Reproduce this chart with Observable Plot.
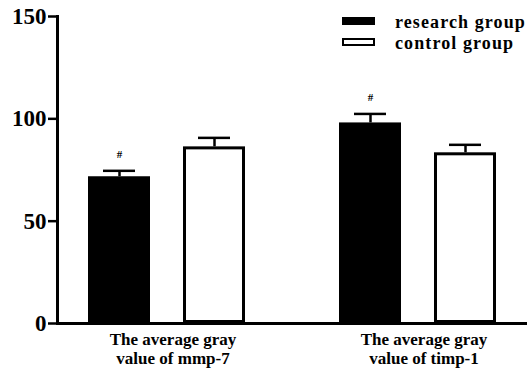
<!DOCTYPE html>
<html>
<head>
<meta charset="utf-8">
<script src="https://cdn.jsdelivr.net/npm/d3@7"></script>
<script src="https://cdn.jsdelivr.net/npm/@observablehq/plot@0.6"></script>
<style>
  html, body { margin: 0; padding: 0; background: #fff; }
  #wrap { position: relative; width: 527px; height: 370px; }
  #chart svg, #chart svg text { font-family: "Liberation Serif", "Times New Roman", serif !important; font-weight: bold; }
  .leg { position: absolute; left: 342px; font: bold 18px "Liberation Serif", serif; letter-spacing: 1.1px; }
  .sw { position: absolute; left: 0; width: 33px; height: 8px; box-sizing: border-box; }
  .lt { position: absolute; left: 53px; white-space: nowrap; line-height: 1; }
</style>
</head>
<body>
<div id="wrap">
  <div id="chart"></div>
  <div class="leg" style="top:13px">
    <div class="sw" style="top:4px;background:#000"></div>
    <div class="lt" style="top:0px">research group</div>
  </div>
  <div class="leg" style="top:34px">
    <div class="sw" style="top:4px;background:#fff;border:2.5px solid #000"></div>
    <div class="lt" style="top:0px">control group</div>
  </div>
</div>
<script>
const categories = ["The average gray\nvalue of mmp-7", "The average gray\nvalue of timp-1"];
const groups = ["research group", "control group"];
const researchMeans = [71.7, 98.0];
const researchErrs = [2.9, 4.4];
const researchMarks = ["#", "#"];
const controlMeans = [86.3, 83.4];
const controlErrs = [4.4, 3.9];
const yTicks = [0, 50, 100, 150];

const rows = [];
categories.forEach((c, i) => {
  rows.push({cat: c, group: groups[0], mean: researchMeans[i], err: researchErrs[i], mark: researchMarks[i]});
  rows.push({cat: c, group: groups[1], mean: controlMeans[i], err: controlErrs[i], mark: ""});
});
rows.forEach(d => d.top = d.mean + d.err);

const serif = "Liberation Serif, Times New Roman, serif";

const chart = Plot.plot({
  width: 527,
  height: 370,
  marginLeft: 57,
  marginRight: 0,
  marginTop: 16,
  marginBottom: 47,
  style: {fontFamily: serif, fontWeight: "bold", color: "#000"},
  fx: {domain: categories, paddingInner: 0.1275, paddingOuter: 0, label: null},
  x: {domain: groups, paddingInner: 0.347, paddingOuter: 0.326, axis: null},
  y: {domain: [0, 150], axis: null},
  marks: [
    Plot.barY(rows, {fx: "cat", x: "group", y: "mean",
      fill: d => d.group === groups[0] ? "#000" : "#fff",
      stroke: "#000", strokeWidth: 3, inset: 1.5}),
    Plot.ruleX(rows, {fx: "cat", x: "group", y1: "mean", y2: "top", stroke: "#000", strokeWidth: 2.5}),
    Plot.tickY(rows, {fx: "cat", x: "group", y: "top", stroke: "#000", strokeWidth: 2.5, insetLeft: 15, insetRight: 15}),
    Plot.text(rows.filter(d => d.mark), {fx: "cat", x: "group", y: "top", text: "mark", dy: -16, fontSize: 11, fontFamily: serif, fill: "#000"}),
    Plot.frame({anchor: "bottom", facet: "super", stroke: "#000", strokeWidth: 3}),
    Plot.frame({anchor: "left", facet: "super", stroke: "#000", strokeWidth: 3}),
    Plot.axisY({ticks: yTicks, tickSize: 9, tickPadding: 2, fontSize: 23, fontFamily: serif, strokeWidth: 2.5, fill: "#000", stroke: "#000"}),
    Plot.axisFx({anchor: "bottom", tickSize: 0, tickPadding: 8, dx: 6, fontSize: 17, fontFamily: serif, lineHeight: 1.12, letterSpacing: 1.6, label: null, fill: "#000"})
  ]
});
document.getElementById("chart").appendChild(chart);
</script>
</body>
</html>
